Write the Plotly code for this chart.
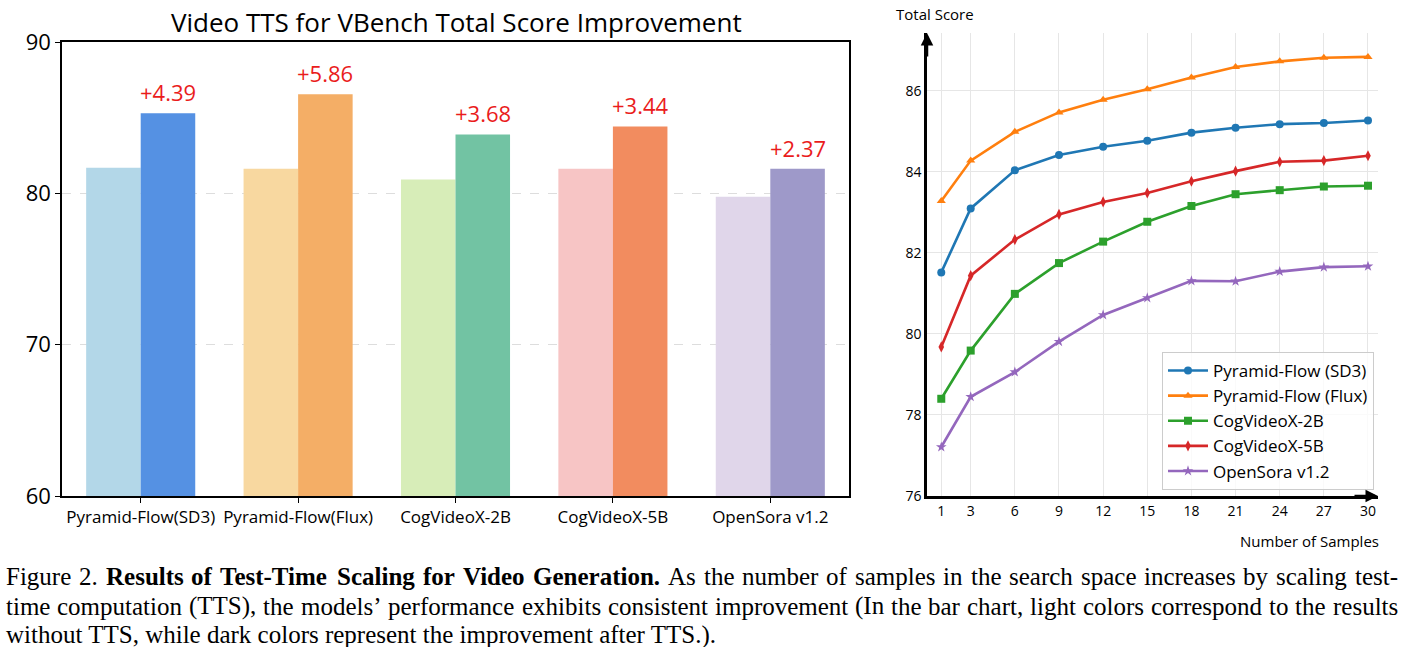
import plotly.graph_objects as go

# ---------------- data ----------------
models = ["Pyramid-Flow(SD3)", "Pyramid-Flow(Flux)", "CogVideoX-2B", "CogVideoX-5B", "OpenSora v1.2"]
base_scores = [81.69, 81.63, 80.92, 81.63, 79.78]
tts_scores = [85.30, 86.55, 83.89, 84.42, 81.63]
gain_labels = ["+4.39", "+5.86", "+3.68", "+3.44", "+2.37"]
light_colors = ["#B3D7E8", "#F8D8A0", "#D7EDB8", "#F7C5C5", "#E0D6EA"]
dark_colors = ["#5591E3", "#F4AE66", "#72C3A3", "#F28C5F", "#9E99C9"]

samples = [1, 3, 6, 9, 12, 15, 18, 21, 24, 27, 30]
series_names = ["Pyramid-Flow (SD3)", "Pyramid-Flow (Flux)", "CogVideoX-2B", "CogVideoX-5B", "OpenSora v1.2"]
sd3 = [81.52, 83.10, 84.04, 84.42, 84.62, 84.77, 84.97, 85.09, 85.18, 85.21, 85.27]
flux = [83.28, 84.28, 84.99, 85.47, 85.78, 86.04, 86.33, 86.59, 86.73, 86.82, 86.84]
cog2b = [78.40, 79.59, 80.99, 81.75, 82.28, 82.77, 83.16, 83.45, 83.55, 83.64, 83.66]
cog5b = [79.68, 81.44, 82.33, 82.95, 83.26, 83.48, 83.77, 84.02, 84.25, 84.28, 84.40]
opensora = [77.21, 78.45, 79.06, 79.81, 80.47, 80.89, 81.31, 81.30, 81.54, 81.65, 81.67]
line_colors = ["#1F77B4", "#FF7F0E", "#2CA02C", "#D62728", "#9467BD"]
line_symbols = ["circle", "triangle-up", "square", "diamond-tall", "star"]

caption_line1 = [("Figure", 0), ("2.", 0), ("Results", 1), ("of", 1), ("Test-Time", 1), ("Scaling", 1),
                 ("for", 1), ("Video", 1), ("Generation.", 1), ("As", 0), ("the", 0), ("number", 0),
                 ("of", 0), ("samples", 0), ("in", 0), ("the", 0), ("search", 0), ("space", 0),
                 ("increases", 0), ("by", 0), ("scaling", 0), ("test-", 0)]
caption_line2 = "time computation (TTS), the models\u2019 performance exhibits consistent improvement (In the bar chart, light colors correspond to the results"
caption_line3 = "without TTS, while dark colors represent the improvement after TTS.)."

FONT = "Open Sans"
W, H = 1405, 647

# approximate Times metrics (per 1000 em) for laying out the justified caption
REG = {' ': 250, 'a': 444, 'b': 500, 'c': 444, 'd': 500, 'e': 444, 'f': 333, 'g': 500, 'h': 500, 'i': 278,
       'j': 278, 'k': 500, 'l': 278, 'm': 778, 'n': 500, 'o': 500, 'p': 500, 'q': 500, 'r': 333, 's': 389,
       't': 278, 'u': 500, 'v': 500, 'w': 722, 'x': 500, 'y': 500, 'z': 444, 'A': 722, 'B': 667, 'C': 667,
       'D': 722, 'E': 611, 'F': 556, 'G': 722, 'H': 722, 'I': 333, 'J': 389, 'K': 722, 'L': 611, 'M': 889,
       'N': 722, 'O': 722, 'P': 556, 'Q': 722, 'R': 667, 'S': 556, 'T': 611, 'U': 722, 'V': 722, 'W': 944,
       'X': 722, 'Y': 722, 'Z': 611, '.': 250, ',': 250, '-': 333, '(': 333, ')': 333, '\u2019': 333}
BOLD = {'a': 500, 'b': 556, 'c': 444, 'd': 556, 'e': 444, 'f': 333, 'g': 500, 'h': 556, 'i': 278, 'j': 333,
        'k': 556, 'l': 278, 'm': 833, 'n': 556, 'o': 500, 'p': 556, 'q': 556, 'r': 444, 's': 389, 't': 333,
        'u': 556, 'v': 500, 'w': 722, 'x': 500, 'y': 500, 'z': 444, 'R': 722, 'T': 667, 'S': 556, 'G': 778,
        'V': 722, '-': 333, '.': 250, ' ': 250}
for d in range(10):
    REG[str(d)] = 500


def text_w(word, bold, size):
    table = BOLD if bold else REG
    return sum(table.get(ch, REG.get(ch, 500)) for ch in word) * size / 1000.0


fig = go.Figure()

# ---------------- bar chart ----------------
fig.add_trace(go.Bar(x=models, y=base_scores, marker=dict(color=light_colors, line=dict(width=0)),
                     xaxis="x", yaxis="y", showlegend=False))
fig.add_trace(go.Bar(x=models, y=tts_scores, marker=dict(color=dark_colors, line=dict(width=0)),
                     xaxis="x", yaxis="y", showlegend=False))

annotations = []
for i, (v, t) in enumerate(zip(tts_scores, gain_labels)):
    annotations.append(dict(x=i + 0.173, y=v, xref="x", yref="y", text=t, showarrow=False,
                            yshift=21, font=dict(family=FONT, size=22, color="#EA1C1C")))

# ---------------- line chart ----------------
for name, ys, c, s in zip(series_names, [sd3, flux, cog2b, cog5b, opensora], line_colors, line_symbols):
    fig.add_trace(go.Scatter(x=samples, y=ys, name=name, mode="lines+markers",
                             line=dict(color=c, width=2.6),
                             marker=dict(symbol=s, size=8, color=c),
                             xaxis="x2", yaxis="y2"))

# axis arrows
annotations.append(dict(x=0.03, y=87.43, xref="x2", yref="y2", ax=0, ay=25, text="", showarrow=True,
                        arrowhead=2, arrowsize=1, arrowwidth=2.5, arrowcolor="black"))
annotations.append(dict(x=30.68, y=76, xref="x2", yref="y2", ax=-25, ay=0, text="", showarrow=True,
                        arrowhead=2, arrowsize=1, arrowwidth=2.5, arrowcolor="black"))

annotations.append(dict(x=894 / W, y=1 - 14 / H, xref="paper", yref="paper", xanchor="left", yanchor="middle",
                        text="Total Score", showarrow=False, font=dict(family=FONT, size=15, color="black")))
annotations.append(dict(x=1381 / W, y=1 - 541 / H, xref="paper", yref="paper", xanchor="right", yanchor="middle",
                        text="Number of Samples", showarrow=False, font=dict(family=FONT, size=15, color="black")))

# title
annotations.append(dict(x=456 / W, y=1 - 22 / H, xref="paper", yref="paper", xanchor="center", yanchor="middle",
                        text="Video TTS for VBench Total Score Improvement", showarrow=False,
                        font=dict(family=FONT, size=26, color="black")))

# caption (justified lines laid out word by word)
CAP = 25
cap_font = dict(family="Liberation Serif", size=CAP, color="black")
left_px, right_px = 6, 1398


def justify(words, ypx):
    widths = [text_w(w, b, CAP) for w, b in words]
    gap = (right_px - left_px - sum(widths)) / (len(words) - 1)
    x = left_px
    for (w, b), wd in zip(words, widths):
        annotations.append(dict(x=x / W, y=1 - ypx / H, xref="paper", yref="paper", xanchor="left",
                                yanchor="middle", text=f"<b>{w}</b>" if b else w, showarrow=False,
                                font=cap_font, borderpad=0, xshift=-1))
        x += wd + gap


justify(caption_line1, 576)
justify([(w, 0) for w in caption_line2.split(" ")], 606)
annotations.append(dict(x=left_px / W, y=1 - 635 / H, xref="paper", yref="paper", xanchor="left",
                        yanchor="middle", text=caption_line3, showarrow=False, font=cap_font,
                        borderpad=0, xshift=-1))

fig.update_layout(
    width=W, height=H,
    margin=dict(l=0, r=0, t=0, b=0, autoexpand=False),
    paper_bgcolor="white", plot_bgcolor="white",
    barmode="group", bargap=0.307, bargroupgap=0,
    font=dict(family=FONT, color="black"),
    xaxis=dict(domain=[62 / W, 849 / W], anchor="y", showline=True, mirror=True, automargin=False,
               linecolor="black", linewidth=1.5, ticks="outside", ticklen=5, tickcolor="black",
               tickfont=dict(family=FONT, size=17), showgrid=False),
    yaxis=dict(domain=[1 - 496 / H, 1 - 42 / H], anchor="x", range=[60, 90], tickvals=[60, 70, 80, 90],
               showline=True, mirror=True, linecolor="black", linewidth=1.5, ticks="outside", ticklen=5,
               tickcolor="black", tickfont=dict(family=FONT, size=22), showgrid=True, automargin=False,
               gridcolor="#DDDDDD", griddash="dash", gridwidth=1, zeroline=False),
    xaxis2=dict(domain=[927 / W, 1378 / W], anchor="y2", range=[0.03, 30.68], tickvals=samples,
                showline=True, linecolor="black", linewidth=2.5, ticks="", showgrid=True, automargin=False,
                gridcolor="#E6E6E6", gridwidth=1, zeroline=False, tickfont=dict(family=FONT, size=14)),
    yaxis2=dict(domain=[1 - 496 / H, 1 - 33 / H], anchor="x2", range=[76, 87.43], automargin=False,
                tickvals=[76, 78, 80, 82, 84, 86], showline=True, linecolor="black", linewidth=2.5,
                ticks="", showgrid=True, gridcolor="#E6E6E6", gridwidth=1, zeroline=False,
                tickfont=dict(family=FONT, size=14)),
    legend=dict(x=1374 / W, y=1 - 490 / H, xanchor="right", yanchor="bottom",
                bordercolor="#CCCCCC", borderwidth=1, bgcolor="rgba(255,255,255,0.8)",
                font=dict(family=FONT, size=17), itemwidth=40, tracegroupgap=2),
    annotations=annotations,
)

fig.write_html("out.html")
